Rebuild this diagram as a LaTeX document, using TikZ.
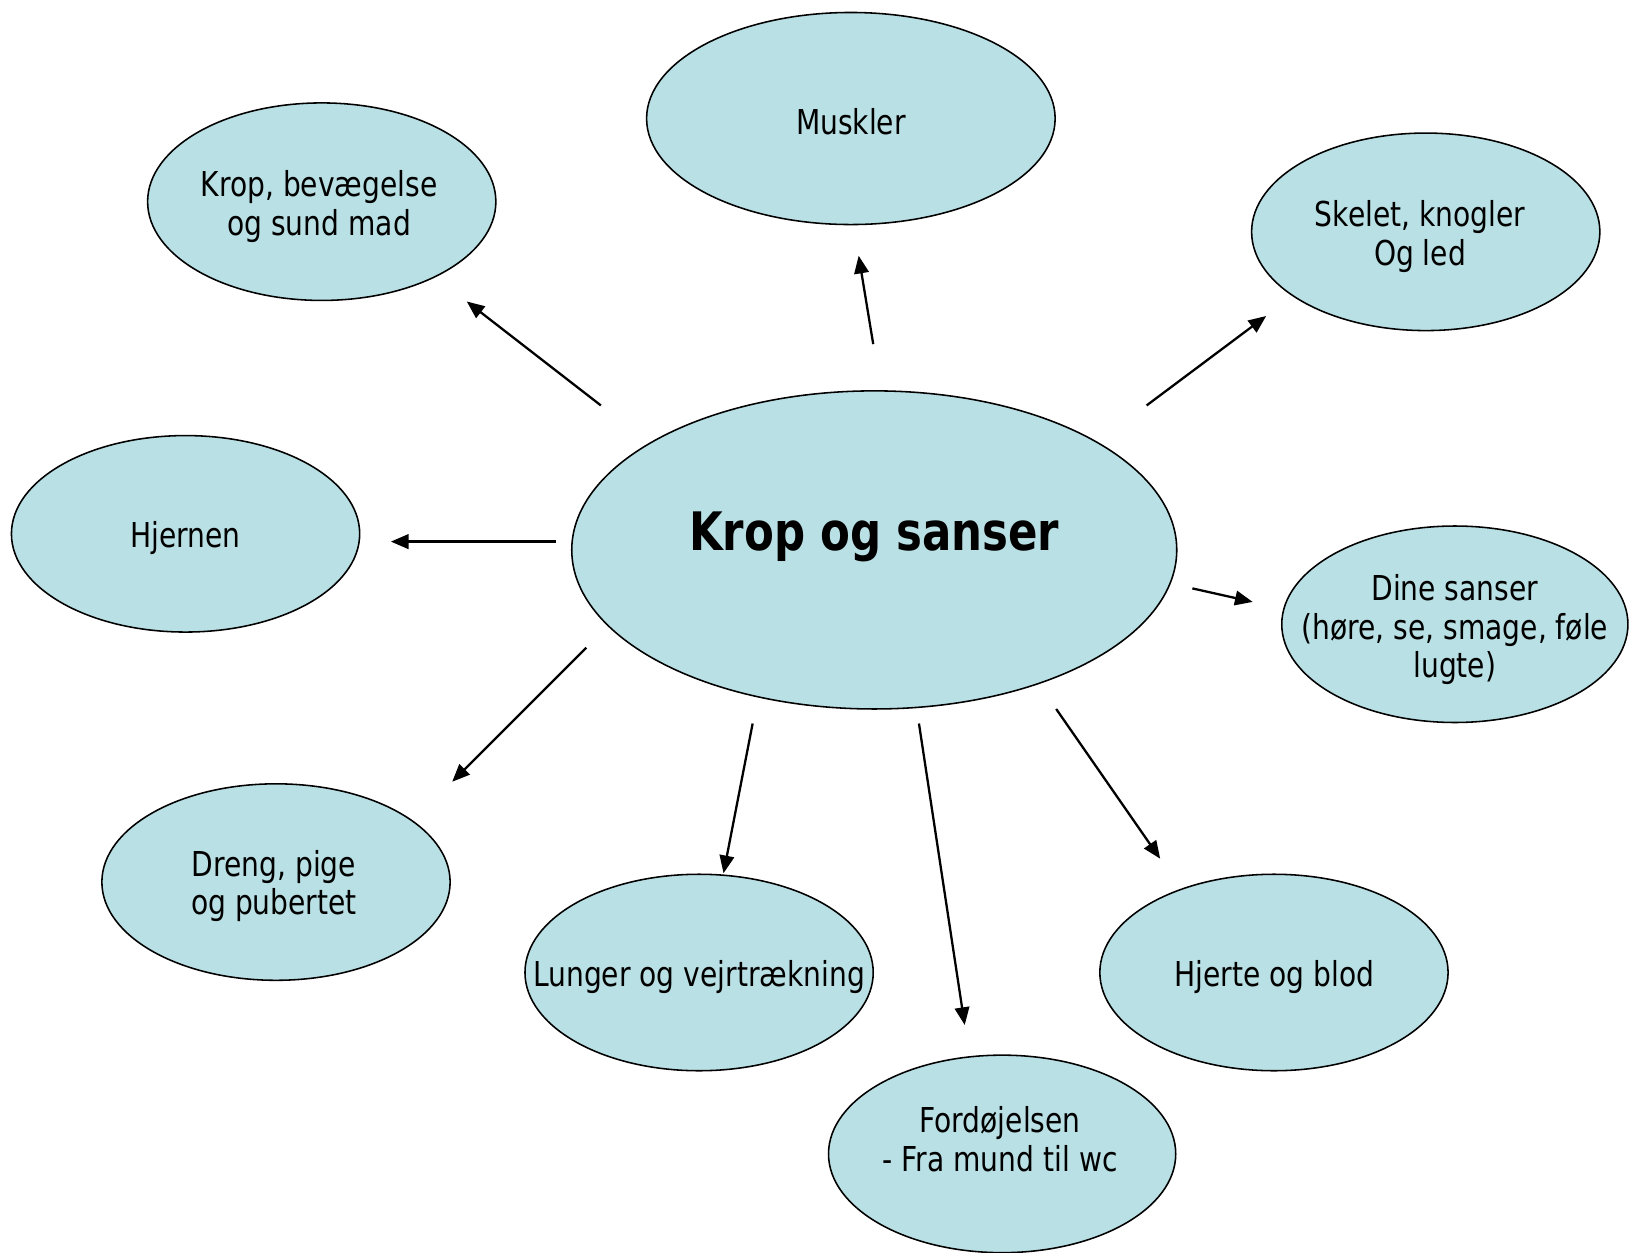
\documentclass[tikz,border=0pt]{standalone}
\usepackage{fontspec}
\setmainfont{DejaVu Sans}[FakeStretch=0.82]
\usetikzlibrary{shapes.geometric,arrows.meta}
\definecolor{bubfill}{RGB}{185,224,228}
\begin{document}
\begin{tikzpicture}[x=1pt,y=-1pt,
  bub/.style={ellipse,draw=black,line width=1.5pt,fill=bubfill,inner sep=0pt},
  txt/.style={align=center,font=\fontsize{33}{37}\selectfont,inner sep=0pt},
  title/.style={font=\fontsize{51}{56}\selectfont\bfseries,inner sep=0pt},
  arr/.style={line width=2.2pt,-{Triangle[length=17pt,width=14pt]}}]
\useasboundingbox (0,0) rectangle (1568,1205);
% ellipses
\node[bub,minimum width=393pt,minimum height=204pt] (mus) at (818.5,114) {};
\node[bub,minimum width=335pt,minimum height=190pt] (krop) at (309.5,194) {};
\node[bub,minimum width=335pt,minimum height=190pt] (skel) at (1371.5,223) {};
\node[bub,minimum width=335pt,minimum height=189pt] (hjer) at (178.5,513.5) {};
\node[bub,minimum width=582pt,minimum height=306pt] (ctr) at (841,529) {};
\node[bub,minimum width=333pt,minimum height=189pt] (dine) at (1399.5,600.5) {};
\node[bub,minimum width=335pt,minimum height=189pt] (dreng) at (265.5,848.5) {};
\node[bub,minimum width=335pt,minimum height=189pt] (lung) at (672.5,935.5) {};
\node[bub,minimum width=335pt,minimum height=189pt] (hjert) at (1225.5,935.5) {};
\node[bub,minimum width=334pt,minimum height=190pt] (ford) at (964,1110) {};
% texts
\node[txt] (musT) at (818.5,117) {Muskler};
\node[txt] (kropT) at (307,198.5) {Krop, bevægelse\\og sund mad};
\node[txt] (skelT) at (1366,227.5) {Skelet, knogler\\Og led};
\node[txt] (hjerT) at (178.5,518) {Hjernen};
\node[title] (ctrT) at (841,516) {Krop og sanser};
\node[txt] (dineT) at (1399.5,606) {Dine sanser\\(høre, se, smage, føle\\lugte)};
\node[txt] (drengT) at (263.5,852.5) {Dreng, pige\\og pubertet};
\node[txt] (lungT) at (672.5,940) {Lunger og vejrtrækning};
\node[txt] (hjertT) at (1226,940) {Hjerte og blod};
\node[txt] (fordT) at (962,1096) {Fordøjelsen\\- Fra mund til wc};
% arrow end points
\coordinate (a1s) at (578,390);  \coordinate (a1e) at (449,290);
\coordinate (a2s) at (840,331);  \coordinate (a2e) at (826,246);
\coordinate (a3s) at (1103,390); \coordinate (a3e) at (1218,304);
\coordinate (a4s) at (535,521);  \coordinate (a4e) at (376,521);
\coordinate (a5s) at (1147,566); \coordinate (a5e) at (1205,579);
\coordinate (a6s) at (564,623);  \coordinate (a6e) at (435,752);
\coordinate (a7s) at (724,696);  \coordinate (a7e) at (696,840);
\coordinate (a8s) at (884,696);  \coordinate (a8e) at (928,986);
\coordinate (a9s) at (1016,682); \coordinate (a9e) at (1116,826);
\draw[arr] (a1s) -- (a1e);
\draw[arr] (a2s) -- (a2e);
\draw[arr] (a3s) -- (a3e);
\draw[arr] (a4s) -- (a4e);
\draw[arr] (a5s) -- (a5e);
\draw[arr] (a6s) -- (a6e);
\draw[arr] (a7s) -- (a7e);
\draw[arr] (a8s) -- (a8e);
\draw[arr] (a9s) -- (a9e);
\end{tikzpicture}
\end{document}
